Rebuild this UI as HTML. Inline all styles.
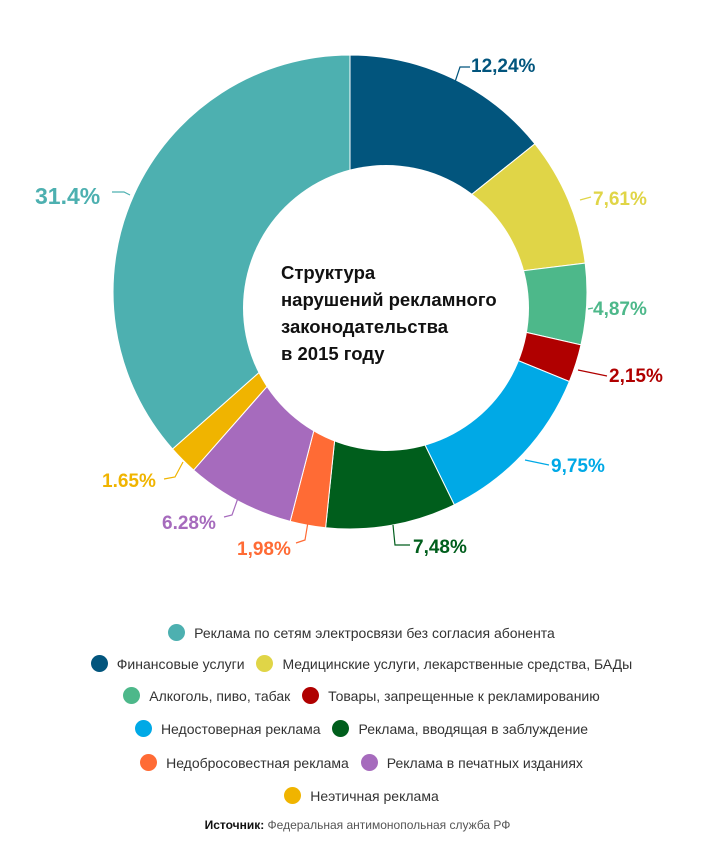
<!DOCTYPE html>
<html><head><meta charset="utf-8"><style>
body{margin:0;background:#fff;width:715px;height:848px;overflow:hidden;font-family:"Liberation Sans",sans-serif}
.row{position:absolute;left:0;width:715px;text-align:center;font-size:14px;color:#333;white-space:nowrap}
.d{display:inline-block;width:17px;height:17px;border-radius:50%;vertical-align:-3px;margin:0 9px 0 8px}
</style></head><body>
<svg width="715" height="600" style="position:absolute;left:0;top:0" font-family="Liberation Sans, sans-serif">
<g stroke="#fff" stroke-width="1">
<path d="M350,292 L350,55 A237,237 0 0 1 534.9,143.8 Z" fill="#02557d"/>
<path d="M350,292 L534.9,143.8 A237,237 0 0 1 585.2,263.1 Z" fill="#e0d547"/>
<path d="M350,292 L585.2,263.1 A237,237 0 0 1 581.0,344.9 Z" fill="#4db88a"/>
<path d="M350,292 L581.0,344.9 A237,237 0 0 1 569.4,381.5 Z" fill="#b00000"/>
<path d="M350,292 L569.4,381.5 A237,237 0 0 1 454.3,504.8 Z" fill="#00a9e6"/>
<path d="M350,292 L454.3,504.8 A237,237 0 0 1 325.6,527.7 Z" fill="#005e1c"/>
<path d="M350,292 L325.6,527.7 A237,237 0 0 1 290.2,521.3 Z" fill="#ff6b35"/>
<path d="M350,292 L290.2,521.3 A237,237 0 0 1 193.6,470.1 Z" fill="#a66bbd"/>
<path d="M350,292 L193.6,470.1 A237,237 0 0 1 172.5,449.0 Z" fill="#f0b400"/>
<path d="M350,292 L172.5,449.0 A237,237 0 0 1 350,55 Z" fill="#4db0b0"/>
</g>
<circle cx="386" cy="308" r="143" fill="#fff"/>
<g fill="none" stroke-width="1.2">
<path d="M455,82 L460,67 L470,67" stroke="#02557d"/>
<path d="M580,200 L591,197" stroke="#e0d547"/>
<path d="M130,195 L124,192 L112,192" stroke="#4db0b0"/>
<path d="M588,309 L593,308" stroke="#4db88a"/>
<path d="M578,370 L607,376" stroke="#b00000"/>
<path d="M525,460 L549,465" stroke="#00a9e6"/>
<path d="M393,525 L395,545 L410,545" stroke="#005e1c"/>
<path d="M308,522 L305,540 L296,543" stroke="#ff6b35"/>
<path d="M238,498 L232,515 L224,517" stroke="#a66bbd"/>
<path d="M183,462 L175,477 L164,479" stroke="#f0b400"/>
</g>
<g font-weight="bold" font-size="19">
<text x="471" y="72" fill="#02557d">12,24%</text>
<text x="593" y="205" fill="#e0d547">7,61%</text>
<text x="35" y="204" fill="#4db0b0" font-size="23">31.4%</text>
<text x="593" y="315" fill="#4db88a">4,87%</text>
<text x="609" y="382" fill="#b00000">2,15%</text>
<text x="551" y="472" fill="#00a9e6">9,75%</text>
<text x="413" y="553" fill="#005e1c">7,48%</text>
<text x="237" y="555" fill="#ff6b35">1,98%</text>
<text x="162" y="529" fill="#a66bbd">6.28%</text>
<text x="102" y="487" fill="#f0b400">1.65%</text>
</g>
<g font-weight="bold" font-size="18.5" fill="#111">
<text x="281" y="279">Структура</text>
<text x="281" y="306">нарушений рекламного</text>
<text x="281" y="333">законодательства</text>
<text x="281" y="360">в 2015 году</text>
</g>
</svg>
<div class="row" style="top:624px"><span class="d" style="background:#4db0b0"></span>Реклама по сетям электросвязи без согласия абонента</div>
<div class="row" style="top:655px"><span class="d" style="background:#02557d"></span>Финансовые услуги <span class="d" style="background:#e0d547"></span>Медицинские услуги, лекарственные средства, БАДы</div>
<div class="row" style="top:687px"><span class="d" style="background:#4db88a"></span>Алкоголь, пиво, табак <span class="d" style="background:#b00000"></span>Товары, запрещенные к рекламированию</div>
<div class="row" style="top:720px"><span class="d" style="background:#00a9e6"></span>Недостоверная реклама <span class="d" style="background:#005e1c"></span>Реклама, вводящая в заблуждение</div>
<div class="row" style="top:754px"><span class="d" style="background:#ff6b35"></span>Недобросовестная реклама <span class="d" style="background:#a66bbd"></span>Реклама в печатных изданиях</div>
<div class="row" style="top:787px"><span class="d" style="background:#f0b400"></span>Неэтичная реклама</div>
<div class="row" style="top:818px;font-size:12px;color:#555"><b style="color:#111">Источник:</b> Федеральная антимонопольная служба РФ</div>
</body></html>
